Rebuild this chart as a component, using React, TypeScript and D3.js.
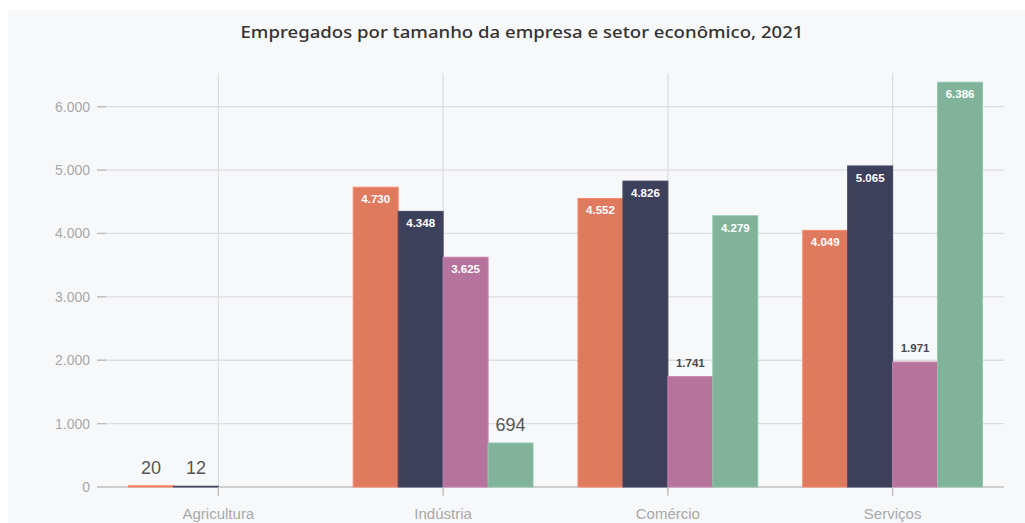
import React, { useRef, useEffect } from 'react';
import * as d3 from 'd3';

const categories = ['Agricultura', 'Indústria', 'Comércio', 'Serviços'];
const seriesNames = ['Micro', 'Pequena', 'Média', 'Grande'];
const micro = [20, 4730, 4552, 4049];
const pequena = [12, 4348, 4826, 5065];
const media = [null, 3625, 1741, 1971];
const grande = [null, 694, 4279, 6386];
const yTicks = [0, 1000, 2000, 3000, 4000, 5000, 6000];
const colors = ['#e07a5f', '#3d405b', '#b5739d', '#81b29a'];

const W = 1025;
const H = 523;

const App: React.FC = () => {
  const svgRef = useRef<SVGSVGElement>(null);

  useEffect(() => {
    if (!svgRef.current) return;
    const svg = d3.select(svgRef.current);
    svg.selectAll('*').remove();

    const series = [micro, pequena, media, grande];
    const locale = d3.formatLocale({ decimal: ',', thousands: '.', grouping: [3], currency: ['R$', ''] });
    const fmt = locale.format(',d');

    // painel de fundo
    svg.append('rect')
      .attr('x', 8).attr('y', 10)
      .attr('width', W - 8).attr('height', H - 10)
      .attr('fill', '#f7f8fa');

    svg.append('text')
      .attr('x', 522).attr('y', 38)
      .attr('text-anchor', 'middle')
      .attr('fill', '#333')
      .attr('font-family', 'Noto Sans, sans-serif')
      .attr('font-size', '17px')
      .attr('font-weight', 500)
      .attr('textLength', 563)
      .attr('lengthAdjust', 'spacingAndGlyphs')
      .text('Empregados por tamanho da empresa e setor econômico, 2021');

    const x0 = d3.scaleBand().domain(categories).range([106, 1005]).paddingInner(0).paddingOuter(0);
    const x1 = d3.scaleBand().domain(seriesNames).range([0, x0.bandwidth()]).paddingOuter(0.5).paddingInner(0);
    const y = d3.scaleLinear().domain([0, 6500]).range([487, 75]);

    // grades horizontais
    svg.append('g')
      .selectAll('line')
      .data(yTicks)
      .join('line')
      .attr('x1', 97).attr('x2', 1004)
      .attr('y1', (d) => y(d)).attr('y2', (d) => y(d))
      .attr('stroke', '#dcdde0').attr('stroke-width', 1.3);

    // grades verticais
    svg.append('g')
      .selectAll('line')
      .data(categories)
      .join('line')
      .attr('x1', (d) => x0(d)! + x0.bandwidth() / 2)
      .attr('x2', (d) => x0(d)! + x0.bandwidth() / 2)
      .attr('y1', 73).attr('y2', 493)
      .attr('stroke', '#dcdde0').attr('stroke-width', 1.3);

    // rótulos do eixo y
    svg.append('g')
      .selectAll('text')
      .data(yTicks)
      .join('text')
      .attr('x', 90)
      .attr('y', (d) => y(d))
      .attr('dy', '0.35em')
      .attr('text-anchor', 'end')
      .attr('fill', '#a8a8a8')
      .attr('font-family', 'Liberation Sans, Arial, sans-serif')
      .attr('font-size', '14px')
      .text((d) => fmt(d));

    svg.append('g')
      .selectAll('line')
      .data(yTicks)
      .join('line')
      .attr('x1', 97).attr('x2', 106)
      .attr('y1', (d) => y(d)).attr('y2', (d) => y(d))
      .attr('stroke', '#bdbdbd').attr('stroke-width', 1.3);

    // eixo x
    svg.append('line')
      .attr('x1', 106).attr('x2', 1004)
      .attr('y1', y(0)).attr('y2', y(0))
      .attr('stroke', '#c8c8c8').attr('stroke-width', 1.3);

    const cells = categories.flatMap((c, i) =>
      series.map((s, j) => ({ cat: c, name: seriesNames[j], value: s[i], idx: j }))
    ).filter((d) => d.value !== null) as { cat: string; name: string; value: number; idx: number }[];

    const g = svg.append('g');
    g.selectAll('rect')
      .data(cells)
      .join('rect')
      .attr('x', (d) => x0(d.cat)! + x1(d.name)!)
      .attr('y', (d) => y(d.value))
      .attr('width', x1.bandwidth())
      .attr('height', (d) => y(0) - y(d.value))
      .attr('fill', (d) => colors[d.idx])
      .attr('stroke', (d) => d3.color(colors[d.idx])!.brighter(0.3).formatHex())
      .attr('stroke-width', 1);

    // rótulos de valor
    g.selectAll('text')
      .data(cells)
      .join('text')
      .attr('x', (d) => x0(d.cat)! + x1(d.name)! + x1.bandwidth() / 2)
      .attr('y', (d) => (d.value >= 2500 ? y(d.value) + 16 : d.value >= 1000 ? y(d.value) - 10 : y(d.value) - 12))
      .attr('text-anchor', 'middle')
      .attr('font-family', 'Liberation Sans, Arial, sans-serif')
      .attr('font-size', (d) => (d.value >= 1000 ? '11.5px' : '18px'))
      .attr('font-weight', (d) => (d.value >= 1000 ? 'bold' : 'normal'))
      .attr('fill', (d) => (d.value >= 2500 ? '#ffffff' : d.value >= 1000 ? '#4a4a4a' : '#555555'))
      .text((d) => fmt(d.value));

    svg.append('g')
      .selectAll('line')
      .data(categories)
      .join('line')
      .attr('x1', (d) => x0(d)! + x0.bandwidth() / 2)
      .attr('x2', (d) => x0(d)! + x0.bandwidth() / 2)
      .attr('y1', y(0)).attr('y2', y(0) + 9)
      .attr('stroke', '#bdbdbd').attr('stroke-width', 1.3);

    svg.append('g')
      .selectAll('text')
      .data(categories)
      .join('text')
      .attr('x', (d) => x0(d)! + x0.bandwidth() / 2)
      .attr('y', 519)
      .attr('text-anchor', 'middle')
      .attr('fill', '#a8a8a8')
      .attr('font-family', 'Liberation Sans, Arial, sans-serif')
      .attr('font-size', '15px')
      .text((d) => d);
  }, []);

  return (
    <svg
      ref={svgRef}
      width={W}
      height={H}
      style={{ position: 'absolute', left: 0, top: 0, background: '#ffffff' }}
    />
  );
};

export default App;
